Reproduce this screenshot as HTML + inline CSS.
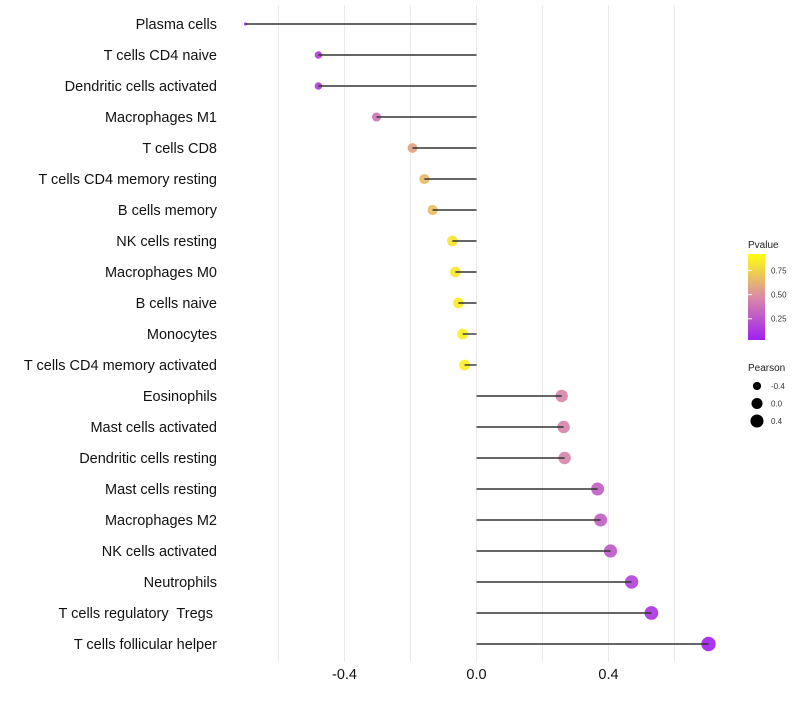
<!DOCTYPE html>
<html><head><meta charset="utf-8"><style>
body{margin:0;background:#fff;font-family:"Liberation Sans",sans-serif}
svg text{font-family:"Liberation Sans",sans-serif;white-space:pre}
</style></head><body>
<svg id="chart" width="800" height="700">
<defs><linearGradient id="pg" x1="0" y1="1" x2="0" y2="0">
<stop offset="0" stop-color="#a020f0"/><stop offset="0.5" stop-color="#d98ba6"/><stop offset="1" stop-color="#ffff10"/></linearGradient></defs>
<g id="grid"></g>
<g id="marks"></g>
<g id="ylab"></g>
<g id="xlab"></g>
<g>
<text x="748" y="248" font-size="10" fill="#222">Pvalue</text>
<rect x="748" y="254" width="17" height="86" fill="url(#pg)"/>
<g id="cbticks"></g>
</g>
<g>
<text x="748" y="371" font-size="10" fill="#222">Pearson</text>
<g id="sizeleg"></g>
</g>
</svg>
<script>
const categories=["Plasma cells","T cells CD4 naive","Dendritic cells activated","Macrophages M1","T cells CD8","T cells CD4 memory resting","B cells memory","NK cells resting","Macrophages M0","B cells naive","Monocytes","T cells CD4 memory activated","Eosinophils","Mast cells activated","Dendritic cells resting","Mast cells resting","Macrophages M2","NK cells activated","Neutrophils","T cells regulatory  Tregs ","T cells follicular helper"];
const pearson=[-0.70,-0.479,-0.479,-0.303,-0.194,-0.158,-0.133,-0.073,-0.064,-0.055,-0.042,-0.036,0.258,0.264,0.267,0.367,0.376,0.406,0.470,0.530,0.703];
const pvalue=[0.03,0.15,0.15,0.40,0.60,0.70,0.72,0.88,0.90,0.92,0.93,0.93,0.48,0.47,0.47,0.30,0.30,0.27,0.17,0.10,0.03];
const xTicks=[-0.4,0.0,0.4];
const xTickLabels=["-0.4","0.0","0.4"];
const gridVals=[-0.6,-0.4,-0.2,0,0.2,0.4,0.6];
const cbTicks=[0.25,0.5,0.75];
const sizeLeg=[-0.4,0.0,0.4];
const NS="http://www.w3.org/2000/svg";
const x=v=>476.5+v*330;
const y=i=>24+i*31;
const r=v=>1.5+5.7*Math.sqrt(Math.max(0,(v+0.7)/1.4));
function lerp(a,b,t){return a.map((c,k)=>Math.round(c+(b[k]-c)*t));}
function col(p){const s=[[160,32,240],[217,139,166],[255,255,16]];let c=p<0.5?lerp(s[0],s[1],p/0.5):lerp(s[1],s[2],(p-0.5)/0.5);return `rgb(${c.join(',')})`;}
function mk(t,a,parent){const e=document.createElementNS(NS,t);for(const k in a)e.setAttribute(k,a[k]);document.getElementById(parent).appendChild(e);return e;}
gridVals.forEach(v=>{const e=mk('line',{x1:x(v),x2:x(v),y1:5,y2:662,stroke:'#ebebeb','stroke-width':1},'grid');

});
categories.forEach((c,i)=>{
const d=mk('circle',{cx:x(pearson[i]),cy:y(i),r:r(pearson[i]),fill:col(pvalue[i]),'fill-opacity':0.92},'marks');


const l=mk('line',{x1:x(0),x2:x(pearson[i]),y1:y(i),y2:y(i),stroke:'#333','stroke-width':1.4},'marks');


const t=mk('text',{x:217,y:y(i)+5,'text-anchor':'end','font-size':14.5,fill:'#111'},'ylab');t.textContent=c;

});
xTicks.forEach((v,i)=>{const t=mk('text',{x:x(v),y:679,'text-anchor':'middle','font-size':14.5,fill:'#111'},'xlab');t.textContent=xTickLabels[i];

});
cbTicks.forEach(p=>{const yy=340-(p-0.03)/(0.92-0.03)*86;
const a=mk('line',{x1:748,x2:752,y1:yy,y2:yy,stroke:'#fff','stroke-width':1},'cbticks');


const t=mk('text',{x:771,y:yy+3,'font-size':8,fill:'#333'},'cbticks');t.textContent=p.toFixed(2);

});
sizeLeg.forEach((v,i)=>{const yy=386+i*17.5;
const c=mk('circle',{cx:757,cy:yy,r:r(v),fill:'#000'},'sizeleg');


const t=mk('text',{x:771,y:yy+3,'font-size':8,fill:'#333'},'sizeleg');t.textContent=v.toFixed(1);

});
</script>
</body></html>
